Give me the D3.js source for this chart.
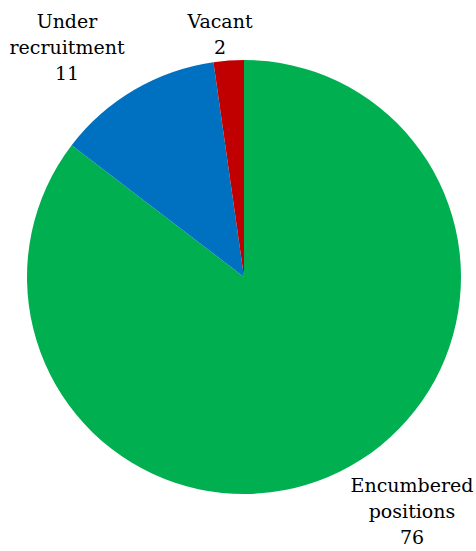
<!DOCTYPE html>
<html>
<head>
<meta charset="utf-8">
<script src="https://cdn.jsdelivr.net/npm/d3@7"></script>
<style>
  body { margin: 0; background: #fff; }
  svg { display: block; }
</style>
</head>
<body>
<div id="chart"></div>
<script>
var categories = ["Encumbered positions", "Under recruitment", "Vacant"];
var values = [76, 11, 2];
var labelLines = [["Encumbered", "positions", "76"], ["Under", "recruitment", "11"], ["Vacant", "2"]];
var colors = ["#00B050", "#0070C0", "#C00000"];

var width = 476;
var height = 551;
var cx = 244, cy = 277, radius = 217;
// label placement (x centre, first baseline)
var labelPos = [[412, 492], [67, 28], [220, 28]];
var lineHeight = 26;

var data = categories.map(function(c, i) { return { name: c, value: values[i], i: i }; });

var svg = d3.select("#chart").append("svg")
    .attr("width", width)
    .attr("height", height);

var pie = d3.pie().sort(null).value(function(d) { return d.value; });
var arc = d3.arc().innerRadius(0).outerRadius(radius);

var g = svg.append("g").attr("transform", "translate(" + cx + "," + cy + ")");
g.selectAll("path")
    .data(pie(data))
    .enter()
    .append("path")
    .attr("d", arc)
    .attr("fill", function(d) { return colors[d.data.i]; });

var labels = svg.append("g")
    .attr("fill", "#000")
    .attr("text-anchor", "middle");

data.forEach(function(d) {
    var t = labels.append("text")
        .style("font-family", "'DejaVu Serif', serif")
        .style("font-size", "19px")
        .attr("x", labelPos[d.i][0])
        .attr("y", labelPos[d.i][1]);
    labelLines[d.i].forEach(function(line, k) {
        t.append("tspan")
            .attr("x", labelPos[d.i][0])
            .attr("dy", k === 0 ? 0 : lineHeight)
            .text(line);
    });
});
</script>
</body>
</html>
